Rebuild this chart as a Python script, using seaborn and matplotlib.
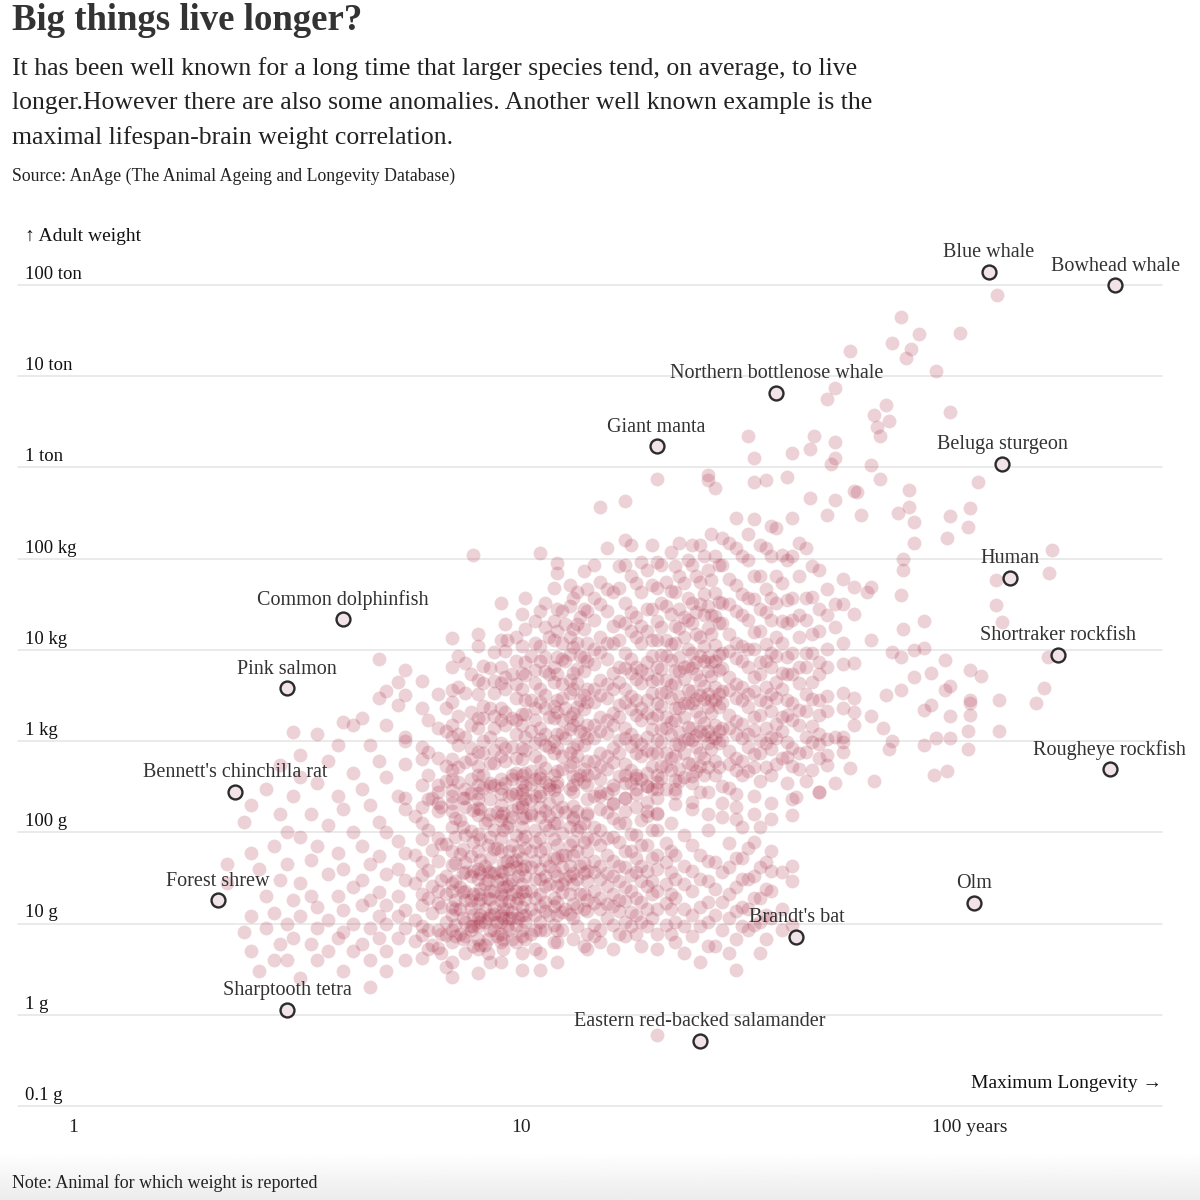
import numpy as np
import pandas as pd
import matplotlib.pyplot as plt
import seaborn as sns

# ---- background species: (maximum longevity [years], [adult weights in g]) ----
left_cols = [
    (2.2, [45, 28]),
    (2.4, [130, 8]),
    (2.5, [200, 60, 12, 5]),
    (2.6, [40, 3]),
    (2.7, [300, 20, 9]),
    (2.8, [70, 13, 4]),
    (2.9, [550, 160, 30, 6]),
    (3.0, [100, 45, 10, 4]),
    (3.1, [1250, 250, 18, 7]),
    (3.2, [700, 400, 90, 28, 12, 2.5]),
    (3.4, [160, 50, 20, 6]),
    (3.5, [1200, 350, 70, 15, 9, 4]),
    (3.7, [600, 120, 35, 11, 5]),
    (3.9, [900, 250, 60, 20, 7]),
    (4.0, [1600, 180, 40, 14, 8, 3]),
    (4.2, [1500, 450, 100, 25, 10, 5]),
    (4.4, [1800, 300, 70, 30, 16, 6]),
    (4.6, [900, 200, 45, 18, 9, 4, 2]),
    (4.8, [8000, 3000, 600, 130, 55, 22, 12, 7]),
    (5.0, [3500, 1500, 400, 100, 35, 16, 10, 5, 3]),
    (5.3, [4500, 2500, 250, 80, 40, 20, 12, 7]),
    (5.5, [6000, 1000, 180, 60, 30, 14, 9, 4]),
]

small_cols = [
    (5.8, [150, 56, 28, 11, 6.5]),
    (6.0, [125, 84, 47, 34, 21, 16, 9.5, 7.5, 4.2]),
    (6.2, [105, 39, 19, 8.5, 5.3]),
    (6.3, [240, 64, 26, 13, 5.8]),
    (6.5, [170, 86, 48, 23, 17, 8.6, 5.4]),
    (6.6, [190, 74, 30, 15, 7.6, 4.8]),
    (6.8, [74, 33, 21, 10.5, 7.4, 3.3]),
    (7.0, [115, 62, 44, 28, 23, 15, 12.5, 8.6, 6.3, 3.8, 2.6]),
    (7.1, [145, 89, 46, 29, 18, 14.5, 9.6, 7.3]),
    (7.3, [135, 58, 25, 14.5, 7.6]),
    (7.4, [240, 115, 65, 36, 22, 11.5, 6.8]),
    (7.5, [94, 47, 37, 23, 18, 10.5, 7.3, 4.7]),
    (7.7, [104, 55, 33, 18, 14.8, 9.5, 8.4]),
    (7.8, [175, 79, 38, 21, 12.4, 9.4, 5.7]),
    (8.0, [156, 96, 63, 40, 31, 21, 16.8, 11.5, 9.4, 6.7, 5.2, 2.9]),
    (8.1, [182, 84, 50, 36, 24, 18.8, 12.4, 10.5, 5.8]),
    (8.3, [125, 43, 27, 14.3, 10.4, 5.8]),
    (8.4, [135, 73, 38, 30, 19, 11.6, 6.7, 4.7]),
    (8.5, [89, 52, 37, 23, 18.8, 12.4, 8.4, 3.8]),
    (8.7, [106, 65, 36, 23, 15.3, 12.6, 8.6]),
    (8.8, [167, 67, 29, 10.5, 7.3]),
    (9.0, [136, 86, 63, 38, 31, 21, 17.8, 12.4, 10.5, 7.6, 6.3, 3.8]),
    (9.1, [162, 105, 46, 37, 25, 19.8, 14.3, 11.5, 6.7, 5.2]),
    (9.3, [115, 48, 26, 14.3, 9.4]),
    (9.4, [250, 126, 62, 40, 27, 17.8, 11.5, 8.4]),
    (9.5, [146, 72, 47, 30, 21, 13.4, 11.5, 6.7]),
    (9.7, [94, 50, 42, 23, 16.8, 9.6, 6.3]),
    (9.8, [190, 63, 33, 19, 11.5]),
    (10, [188, 115, 84, 52, 40, 27, 22, 15.3, 12.5, 8.6, 7.3, 4.8, 3.1]),
    (10.2, [230, 146, 91, 68, 43, 33, 23, 18.8, 12.4, 10.5, 6.7]),
    (10.5, [156, 62, 42, 23, 14.6, 7.6]),
    (10.7, [105, 78, 48, 31, 19, 12.5, 8.6, 5.2]),
    (11, [146, 86, 63, 40, 31, 21, 15.7, 10.5, 8.4, 4.8, 3.1]),
    (11.3, [172, 120, 67, 50, 33, 26, 17.2, 13.6, 8.6]),
    (11.5, [105, 43, 27, 12.4]),
    (11.8, [125, 84, 52, 38, 19, 15.7, 9.6, 6.3]),
    (12, [126, 72, 52, 33, 26, 17.2, 12.5, 8.6, 6.3, 3.8]),
    (12.3, [190, 99, 57, 42, 27, 22, 13.4, 8.4]),
    (12.5, [167, 57, 31, 14.3]),
    (12.8, [115, 73, 43, 33, 21, 12.6]),
    (13, [146, 81, 57, 36, 27, 16.3, 11.5, 6.7]),
    (13.3, [172, 105, 62, 31, 15.3, 9.4]),
    (13.5, [115, 43, 21]),
    (13.8, [125, 79, 46, 36, 21, 14.6, 5.7]),
    (14, [156, 86, 63, 38, 29, 18, 13.6, 7.6, 5.2]),
    (14.5, [115, 84, 48, 37, 23, 16.8, 9.6, 7.3]),
    (15, [105, 73, 43, 31, 19, 14.6, 8.6, 6.3]),
    (15.5, [167, 86, 57, 36, 26, 16.3, 11.5]),
    (16, [89, 48, 33, 21, 15.7, 9.6, 5.2]),
    (16.5, [125, 78, 43, 29, 18, 13.6, 7.6]),
    (17, [126, 62, 42, 25, 17.8, 10.5, 7.3]),
    (17.5, [96, 63, 34, 23, 13.4, 9.4]),
    (18, [94, 52, 37, 19, 12.5, 7.6]),
    (18.5, [135, 73, 43, 29, 17.2, 10.5, 5.7]),
    (19, [73, 38, 26, 14.3, 9.4]),
    (19.5, [105, 52, 29, 21, 11.5]),
    (20, [105, 57, 40, 23, 14.6, 7.6, 5.2, 0.6]),
    (21, [77, 47, 27, 16.8, 9.6]),
    (21.5, [125, 62, 37, 21, 14.6, 7.6]),
    (22, [57, 31, 19, 10.5, 6.3]),
    (23, [94, 43, 27, 14.3, 9.4, 4.8]),
    (24, [73, 38, 23, 12.4, 7.3]),
    (25, [57, 31, 15.3, 9.4, 3.8]),
    (26, [105, 48, 29, 17.2, 10.5, 5.7]),
    (27, [47, 24, 12.5, 5.7]),
    (28, [146, 37, 17.2, 8.4]),
    (29, [77, 42, 21, 11.5, 4.8]),
    (30, [52, 25, 13.6, 6.7, 3.1]),
    (31, [115, 52, 31, 15.3, 9.4]),
    (32, [67, 31, 14.3, 8.4]),
    (33, [78, 33, 19, 9.6]),
    (34, [115, 42, 19, 10.5, 4.8]),
    (35, [47, 24, 12.5, 6.7]),
    (36, [63, 38, 23, 11.5]),
    (38, [37, 14.3, 8.4]),
    (40, [43, 29, 9.6]),
]

# species between the small-animal and mid-size groups (about 140-430 g)
bridge_cols = [
    (6.5, [330, 210]),
    (7.0, [380, 250, 170]),
    (7.5, [300, 190]),
    (8.0, [420, 270, 185]),
    (8.5, [350, 230, 160]),
    (9.0, [310, 200, 150]),
    (9.5, [380, 260, 175]),
    (10, [430, 290, 205, 145]),
    (10.5, [340, 225, 165]),
    (11, [390, 280, 190]),
    (11.5, [300, 210, 150]),
    (12, [360, 240, 170]),
    (13, [410, 280, 195, 140]),
    (14, [330, 230, 165]),
    (15, [380, 250, 180]),
    (16, [300, 205, 145]),
    (17, [350, 240, 170]),
    (18, [390, 260, 190]),
    (19, [320, 215, 150]),
    (20, [360, 240, 165]),
    (22, [300, 205]),
    (24, [350, 180]),
    (26, [280, 160]),
    (28, [320, 210]),
    (30, [190, 140]),
    (33, [250, 160]),
    (36, [210, 140]),
]

mid_cols = [
    (5.5, [3200, 1100, 560, 240]),
    (6.0, [4600, 2300, 870, 640, 330, 190]),
    (6.2, [1700, 760, 430, 230]),
    (6.5, [3300, 1400, 650, 280]),
    (6.8, [2300, 1300, 540, 370]),
    (7.0, [6500, 3600, 2700, 1500, 1100, 640, 480, 290, 210]),
    (7.2, [8600, 3900, 1900, 1200, 900, 520, 360]),
    (7.5, [7200, 3400, 1100, 590, 240]),
    (7.7, [5400, 2100, 1500, 850, 630, 380, 270]),
    (8.0, [1.1e4, 4700, 3300, 1800, 1400, 760, 530, 330, 230]),
    (8.2, [6600, 4300, 2400, 1800, 1000, 740, 420, 310]),
    (8.5, [6300, 2300, 1100, 570, 320]),
    (8.7, [9500, 4600, 3400, 1900, 1400, 800, 580, 330]),
    (9.0, [1.3e4, 6500, 4300, 2300, 1700, 950, 690, 380, 260]),
    (9.2, [1.9e4, 9800, 5100, 3700, 2100, 1500, 850, 610, 350]),
    (9.5, [5400, 1800, 860, 420]),
    (9.7, [1.4e4, 7600, 4200, 3000, 1700, 1200, 660, 450, 270]),
    (10, [1.1e4, 5600, 3700, 2000, 1500, 840, 640, 360, 260]),
    (10.2, [3.7e4, 1.7e4, 7400, 5300, 2800, 2000, 1100, 800, 450, 320]),
    (10.5, [8500, 2800, 1300, 470]),
    (10.7, [2.1e4, 1.2e4, 6000, 4300, 2300, 1700, 950, 690, 380, 250]),
    (11, [2.7e4, 1.1e4, 7500, 3700, 2700, 1400, 1050, 610, 440, 250]),
    (11.3, [3.3e4, 1.8e4, 8400, 5900, 3200, 2300, 1200, 900, 510, 360]),
    (11.5, [1.4e4, 5400, 1850, 860, 330]),
    (11.8, [4.8e4, 2.1e4, 1.3e4, 6500, 4500, 2400, 1800, 1000, 740, 420, 290]),
    (12, [2.8e4, 1.6e4, 8400, 5400, 2800, 2100, 1200, 850, 470, 320]),
    (12.3, [2.7e4, 1.2e4, 8000, 4200, 3000, 1700, 1230, 680, 490]),
    (12.5, [1.9e4, 7500, 2300, 1080]),
    (12.8, [5.2e4, 3e4, 1.4e4, 9100, 4700, 3400, 1850, 1350, 750, 530, 300]),
    (13, [3.7e4, 1.7e4, 1.07e4, 5600, 3700, 2050, 1500, 840, 590, 330]),
    (13.3, [4.3e4, 1.9e4, 1.18e4, 6100, 4300, 2350, 1700, 940, 680, 380]),
    (13.5, [2.3e4, 8600, 2800, 1280, 420]),
    (13.8, [7.4e4, 2.8e4, 1.7e4, 8400, 5900, 3200, 2250, 1220, 900, 500, 360]),
    (14, [4.7e4, 2.7e4, 1.2e4, 7500, 3700, 2700, 1500, 1070, 610, 430]),
    (14.5, [8.5e4, 3.7e4, 2.15e4, 1.03e4, 7000, 3700, 2700, 1500, 1070, 610, 450, 250]),
    (15, [5.6e4, 3.2e4, 1.4e4, 9600, 4700, 3200, 1850, 1300, 740, 530, 280]),
    (15.5, [1.3e5, 4.7e4, 2.7e4, 1.2e4, 8000, 4200, 3000, 1700, 1230, 680, 490, 270]),
    (16, [4.3e4, 1.85e4, 1.2e4, 5600, 3750, 2050, 1500, 840, 590, 330, 210]),
    (16.5, [8.4e4, 4.8e4, 2.05e4, 1.3e4, 6500, 4500, 2500, 1820, 1030, 750, 410]),
    (17, [8.6e4, 3.3e4, 1.95e4, 9300, 6400, 3700, 2700, 1400, 1070, 560, 430, 235]),
    (17.5, [1.4e5, 6.4e4, 2.6e4, 1.6e4, 7900, 5600, 3100, 2250, 1210, 880, 480, 350]),
    (18, [5.4e4, 2.3e4, 1.4e4, 6500, 4800, 2800, 1950, 1030, 750, 420, 300]),
    (18.5, [9.3e4, 4.3e4, 1.85e4, 1.18e4, 6000, 4300, 2300, 1720, 930, 690, 380]),
    (19, [7.5e4, 2.8e4, 1.6e4, 7400, 5400, 2800, 2050, 1120, 800, 450, 320, 170]),
    (19.5, [1.4e5, 5.1e4, 2.8e4, 1.3e4, 8600, 4600, 3350, 1800, 1350, 740, 540, 300]),
    (20, [9.3e4, 4.8e4, 2.05e4, 1.3e4, 6500, 4800, 2600, 1950, 1030, 750, 420, 300, 160]),
    (20.5, [8.6e4, 3.25e4, 1.8e4, 8800, 6200, 3350, 2450, 1350, 990, 540, 395]),
    (21, [5.6e4, 3e4, 1.3e4, 8600, 4650, 3450, 1850, 1400, 740, 540, 300]),
    (21.5, [1.18e5, 4.45e4, 2.5e4, 1.16e4, 7700, 4100, 3000, 1620, 1180, 650, 480]),
    (22, [8.4e4, 4.3e4, 1.85e4, 1.18e4, 6000, 4300, 2300, 1720, 930, 690, 375, 270]),
    (22.5, [1.5e5, 6.5e4, 2.8e4, 1.72e4, 8400, 5800, 3150, 2300, 1260, 910, 500, 365]),
    (23, [5.4e4, 2.3e4, 1.4e4, 6500, 4800, 2600, 1820, 1030, 750, 400]),
    (23.5, [9.7e4, 3.7e4, 2.15e4, 1.03e4, 6700, 3600, 2650, 1440, 1050, 580]),
    (24, [1.4e5, 8.6e4, 3.25e4, 1.95e4, 9300, 6400, 3550, 2600, 1400, 1020, 560, 410, 215]),
    (24.5, [6.5e4, 2.6e4, 1.5e4, 7400, 5400, 2900, 2150, 1160, 860, 465]),
    (25, [1.4e5, 5.6e4, 3.2e4, 1.4e4, 8600, 4650, 3200, 1850, 1300, 740, 540, 280]),
    (25.5, [1.08e5, 4.15e4, 2.4e4, 1.1e4, 7500, 4000, 2900, 1580, 1180, 650, 420]),
    (26, [7.5e4, 3e4, 1.72e4, 8400, 5900, 3250, 2350, 1300, 960, 515]),
    (26.5, [1.85e5, 5.9e4, 2.4e4, 1.5e4, 7400, 5200, 2800, 2050, 1120, 820]),
    (27, [1.07e5, 4.2e4, 2.35e4, 1.12e4, 7500, 3900, 2800, 1500, 1070, 600, 430]),
    (27.5, [8.6e4, 3.35e4, 1.95e4, 8800, 6000, 3250, 2350, 1300, 950, 520]),
    (28, [1.7e5, 8.6e4, 3.25e4, 1.95e4, 9300, 6400, 3550, 2600, 1400, 1020]),
    (29, [1.5e5, 6e4, 3.2e4, 1.48e4, 9700, 5100, 3650, 1950, 1400, 770, 560, 310]),
    (30, [2.8e5, 1.3e5, 5.1e4, 2.7e4, 1.2e4, 8100, 4200, 3000, 1650, 1200, 650, 480, 260]),
    (31, [1.08e5, 4.15e4, 2.4e4, 1.1e4, 7500, 3900, 2800, 1530, 1080, 600, 430]),
    (32, [1.85e5, 9.7e4, 3.7e4, 2.15e4, 1.03e4, 6500, 3250, 2350, 1200, 860, 465]),
    (33, [2.7e5, 6.5e4, 3.65e4, 1.58e4, 1.02e4, 5100, 3550, 1850, 1340, 720, 515]),
    (34, [1.4e5, 6.5e4, 2.8e4, 1.6e4, 7400, 5400, 2800, 1950, 1030, 750, 370]),
    (35, [1.3e5, 4.6e4, 2.6e4, 1.15e4, 7500, 3900, 2700, 1400, 960, 520]),
    (36, [2.3e5, 1.08e5, 3.7e4, 2.15e4, 9300, 6500, 3250, 2150, 1120, 810, 420]),
    (37, [2.15e5, 6.5e4, 3.25e4, 1.4e4, 8600, 4400, 3000, 1530, 1080, 560]),
    (38, [1.1e5, 5.4e4, 2.05e4, 1.2e4, 5600, 3750, 1850, 1300, 650]),
    (39, [9.7e4, 3.5e4, 1.95e4, 8400, 5400, 2800, 1950, 980, 670, 350]),
    (40, [2.8e5, 1.08e5, 3.7e4, 2.15e4, 9300, 5400, 2600, 1720, 840, 540, 230]),
    (41.5, [1.5e5, 6.5e4, 2.4e4, 1.4e4, 6500, 4300, 2200, 1500, 740, 500]),
    (43, [1.3e5, 3.7e4, 2.15e4, 9300, 6500, 3250, 2150, 1120, 760, 370]),
    (44.5, [8.4e4, 3.8e4, 1.5e4, 9200, 4400, 2900, 1480, 970, 480]),
    (46, [7.5e4, 2.8e4, 1.6e4, 7400, 5400, 2800, 1950, 930, 650, 280]),
    (48, [4.6e4, 2.4e4, 1.02e4, 6500, 3150, 2150, 1060, 700]),
    (52, [3.2e4, 1.2e4, 7000, 3400, 2300, 1100, 760]),
]

# sparse outliers (large animals and long-lived species)
sparse_years = [115, 70, 95, 77, 67, 74, 54, 72, 84, 50, 48, 65, 90, 61, 66, 62, 63, 45,
                32, 50, 44, 40, 50, 33, 49, 60, 39, 63, 20, 35, 26, 104, 33, 27, 73, 55,
                56, 44, 50, 17, 73, 15, 100, 69, 57, 90, 75, 99, 89, 17, 75, 152, 11, 7.8,
                71, 12, 71, 12, 150, 114, 114, 9, 10, 79, 118, 71, 8, 7, 9.3, 75, 149, 88,
                100, 82, 106, 90, 146, 116, 100, 140, 79, 100, 84, 90, 99, 99, 116, 83, 89,
                60, 55, 67, 70, 75, 79, 65, 70, 82, 88, 90, 100, 60, 55, 64, 67, 79, 66,
                61, 54, 50, 46, 40, 41, 48, 46, 50, 52, 55, 55, 50, 50, 55, 55, 70, 59, 60,
                26, 48, 52]
sparse_grams = [7.8e7, 4.5e7, 3e7, 2.9e7, 2.3e7, 2e7, 1.9e7, 1.6e7, 1.15e7, 7.4e6, 5.6e6,
                4.8e6, 4.1e6, 3.8e6, 3.2e6, 2.75e6, 2.2e6, 2.2e6, 2.2e6, 1.9e6, 1.6e6,
                1.45e6, 1.26e6, 1.26e6, 1.1e6, 1.07e6, 7.9e5, 7.4e5, 7.4e5, 7.2e5, 7.2e5,
                6.9e5, 6.9e5, 5.9e5, 5.6e5, 5.5e5, 5.4e5, 4.6e5, 4.4e5, 4.3e5, 3.7e5,
                3.7e5, 3.6e5, 3.2e5, 3e5, 2.9e5, 2.5e5, 2.2e5, 1.7e5, 1.6e5, 1.5e5, 1.26e5,
                1.15e5, 1.1e5, 1e5, 9e4, 7.6e4, 7e4, 7e4, 5.9e4, 3.1e4, 3.3e4, 2.5e4, 2.1e4,
                2e4, 1.7e4, 1.5e4, 1.35e4, 1.3e4, 1e4, 8300, 7800, 6000, 5600, 5200, 4000,
                3800, 2800, 2600, 2600, 2200, 1950, 1070, 1070, 1300, 830, 1300, 420, 470,
                1.3e4, 7200, 9500, 8300, 5000, 1.05e4, 3200, 3600, 2500, 3600, 1900, 2800,
                1900, 1500, 1400, 1000, 910, 830, 370, 510, 350, 275, 155, 245, 550, 1200,
                1100, 980, 2100, 3000, 1.8e4, 3.2e4, 2.5e4, 4.9e4, 4e4, 4.3e4, 4.9e4,
                8.3e5, 3e5, 6e4]

# highlighted species
hl_names = ["Blue whale", "Bowhead whale", "Northern bottlenose whale", "Giant manta",
            "Beluga sturgeon", "Human", "Shortraker rockfish", "Rougheye rockfish", "Olm",
            "Brandt's bat", "Eastern red-backed salamander", "Sharptooth tetra",
            "Forest shrew", "Bennett's chinchilla rat", "Pink salmon", "Common dolphinfish"]
hl_years = [110, 211, 37, 20, 118, 122.5, 157, 205, 102, 41, 25, 3, 2.1, 2.3, 3, 4]
hl_grams = [1.4e8, 1e8, 6.6e6, 1.7e6, 1.1e6, 6.2e4, 8900, 500, 17, 7.2, 0.52, 1.14, 18,
            280, 3800, 2.2e4]

tick_grams = [0.1, 1, 10, 100, 1e3, 1e4, 1e5, 1e6, 1e7, 1e8]
tick_names = ["0.1 g", "1 g", "10 g", "100 g", "1 kg", "10 kg", "100 kg", "1 ton",
              "10 ton", "100 ton"]


def expand(cols):
    yrs, grams = [], []
    for y, ws in cols:
        for w in ws:
            yrs.append(y)
            grams.append(w)
    return yrs, grams


def main():
    sns.set_style("white")
    plt.rcParams['font.family'] = ['Liberation Serif', 'DejaVu Serif']
    ink = "#2b2b2b"

    parts = [expand(left_cols), expand(small_cols), expand(bridge_cols),
             expand(mid_cols), (sparse_years, sparse_grams)]
    bg = pd.DataFrame({"years": sum([p[0] for p in parts], []),
                       "grams": sum([p[1] for p in parts], [])})
    hl = pd.DataFrame({"name": hl_names, "years": hl_years, "grams": hl_grams})

    fig = plt.figure(figsize=(12, 12), dpi=100)
    ax = fig.add_axes([18 / 1200, 94 / 1200, 1144 / 1200, 853 / 1200])
    ax.set_xscale("log")
    ax.set_yscale("log")
    ax.set_xlim(10 ** -0.1226, 10 ** 2.428)
    ax.set_ylim(0.1, 10 ** 8.351)

    for g in tick_grams:
        ax.axhline(g, color="#e4e4e4", lw=1.1, zorder=0, clip_on=False)

    sns.scatterplot(data=bg, x="years", y="grams", ax=ax, s=100, color="#a3203a",
                    alpha=0.2, linewidth=0, legend=False, zorder=2)
    sns.scatterplot(data=hl, x="years", y="grams", ax=ax, s=100, color="#f1e3e7",
                    edgecolor=ink, linewidth=1.7, legend=False, zorder=4)

    for _, r in hl.iterrows():
        ax.annotate(r["name"], (r["years"], r["grams"]), xytext=(0, 13.5),
                    textcoords="offset points", ha="center", va="center",
                    fontsize=14.5, color="#333333", zorder=5)

    # y labels sit above their gridline
    for g, lab in zip(tick_grams, tick_names):
        ax.annotate(lab, (0.006, g), xycoords=("axes fraction", "data"),
                    xytext=(0, 1.5), textcoords="offset points", ha="left",
                    va="bottom", fontsize=13.5, color="#111111")

    sns.despine(ax=ax, left=True, bottom=True)
    ax.set_yticks([])
    ax.minorticks_off()
    ax.set_xticks([1, 10, 100])
    ax.set_xticklabels(["1", "10", "100 years"], fontsize=14, color="#222222")
    ax.tick_params(axis="x", length=5, width=1, color="#333333", pad=4, direction="out")
    ax.set_xlabel("")
    ax.set_ylabel("")

    ax.annotate("↑ Adult weight", (0.006, 1.0), xycoords="axes fraction",
                xytext=(0, 12), textcoords="offset points", fontsize=14,
                ha="left", va="center", color="#111111")
    ax.annotate("Maximum Longevity →", (1.0, 0.1), xycoords=("axes fraction", "data"),
                xytext=(0, 16.5), textcoords="offset points", fontsize=14,
                ha="right", va="center", color="#111111")

    fig.text(12 / 1200, 1 - 20 / 1200, "Big things live longer?", fontsize=26.5,
             fontweight="bold", color="#333333", ha="left", va="center")
    sub = ["It has been well known for a long time that larger species tend, on average, to live",
           "longer.However there are also some anomalies. Another well known example is the",
           "maximal lifespan-brain weight correlation."]
    for line, ypix in zip(sub, [69, 103, 138]):
        fig.text(12 / 1200, 1 - ypix / 1200, line, fontsize=18.5, color="#222222",
                 ha="left", va="center")
    fig.text(12 / 1200, 1 - 176 / 1200,
             "Source: AnAge (The Animal Ageing and Longevity Database)",
             fontsize=12.8, color="#222222", ha="left", va="center")

    # soft grey band behind the footnote
    band = fig.add_axes([0, 0, 1, 48 / 1200], zorder=-1)
    band.imshow(np.linspace(1.0, 0.925, 50).reshape(-1, 1), aspect="auto", cmap="gray",
                vmin=0, vmax=1, extent=[0, 1, 0, 1], origin="upper")
    band.axis("off")
    fig.text(12 / 1200, 1 - 1183 / 1200, "Note: Animal for which weight is reported",
             fontsize=13, color="#222222", ha="left", va="center")

    fig.savefig("out.png", dpi=100, facecolor="white")


if __name__ == '__main__':
    main()
